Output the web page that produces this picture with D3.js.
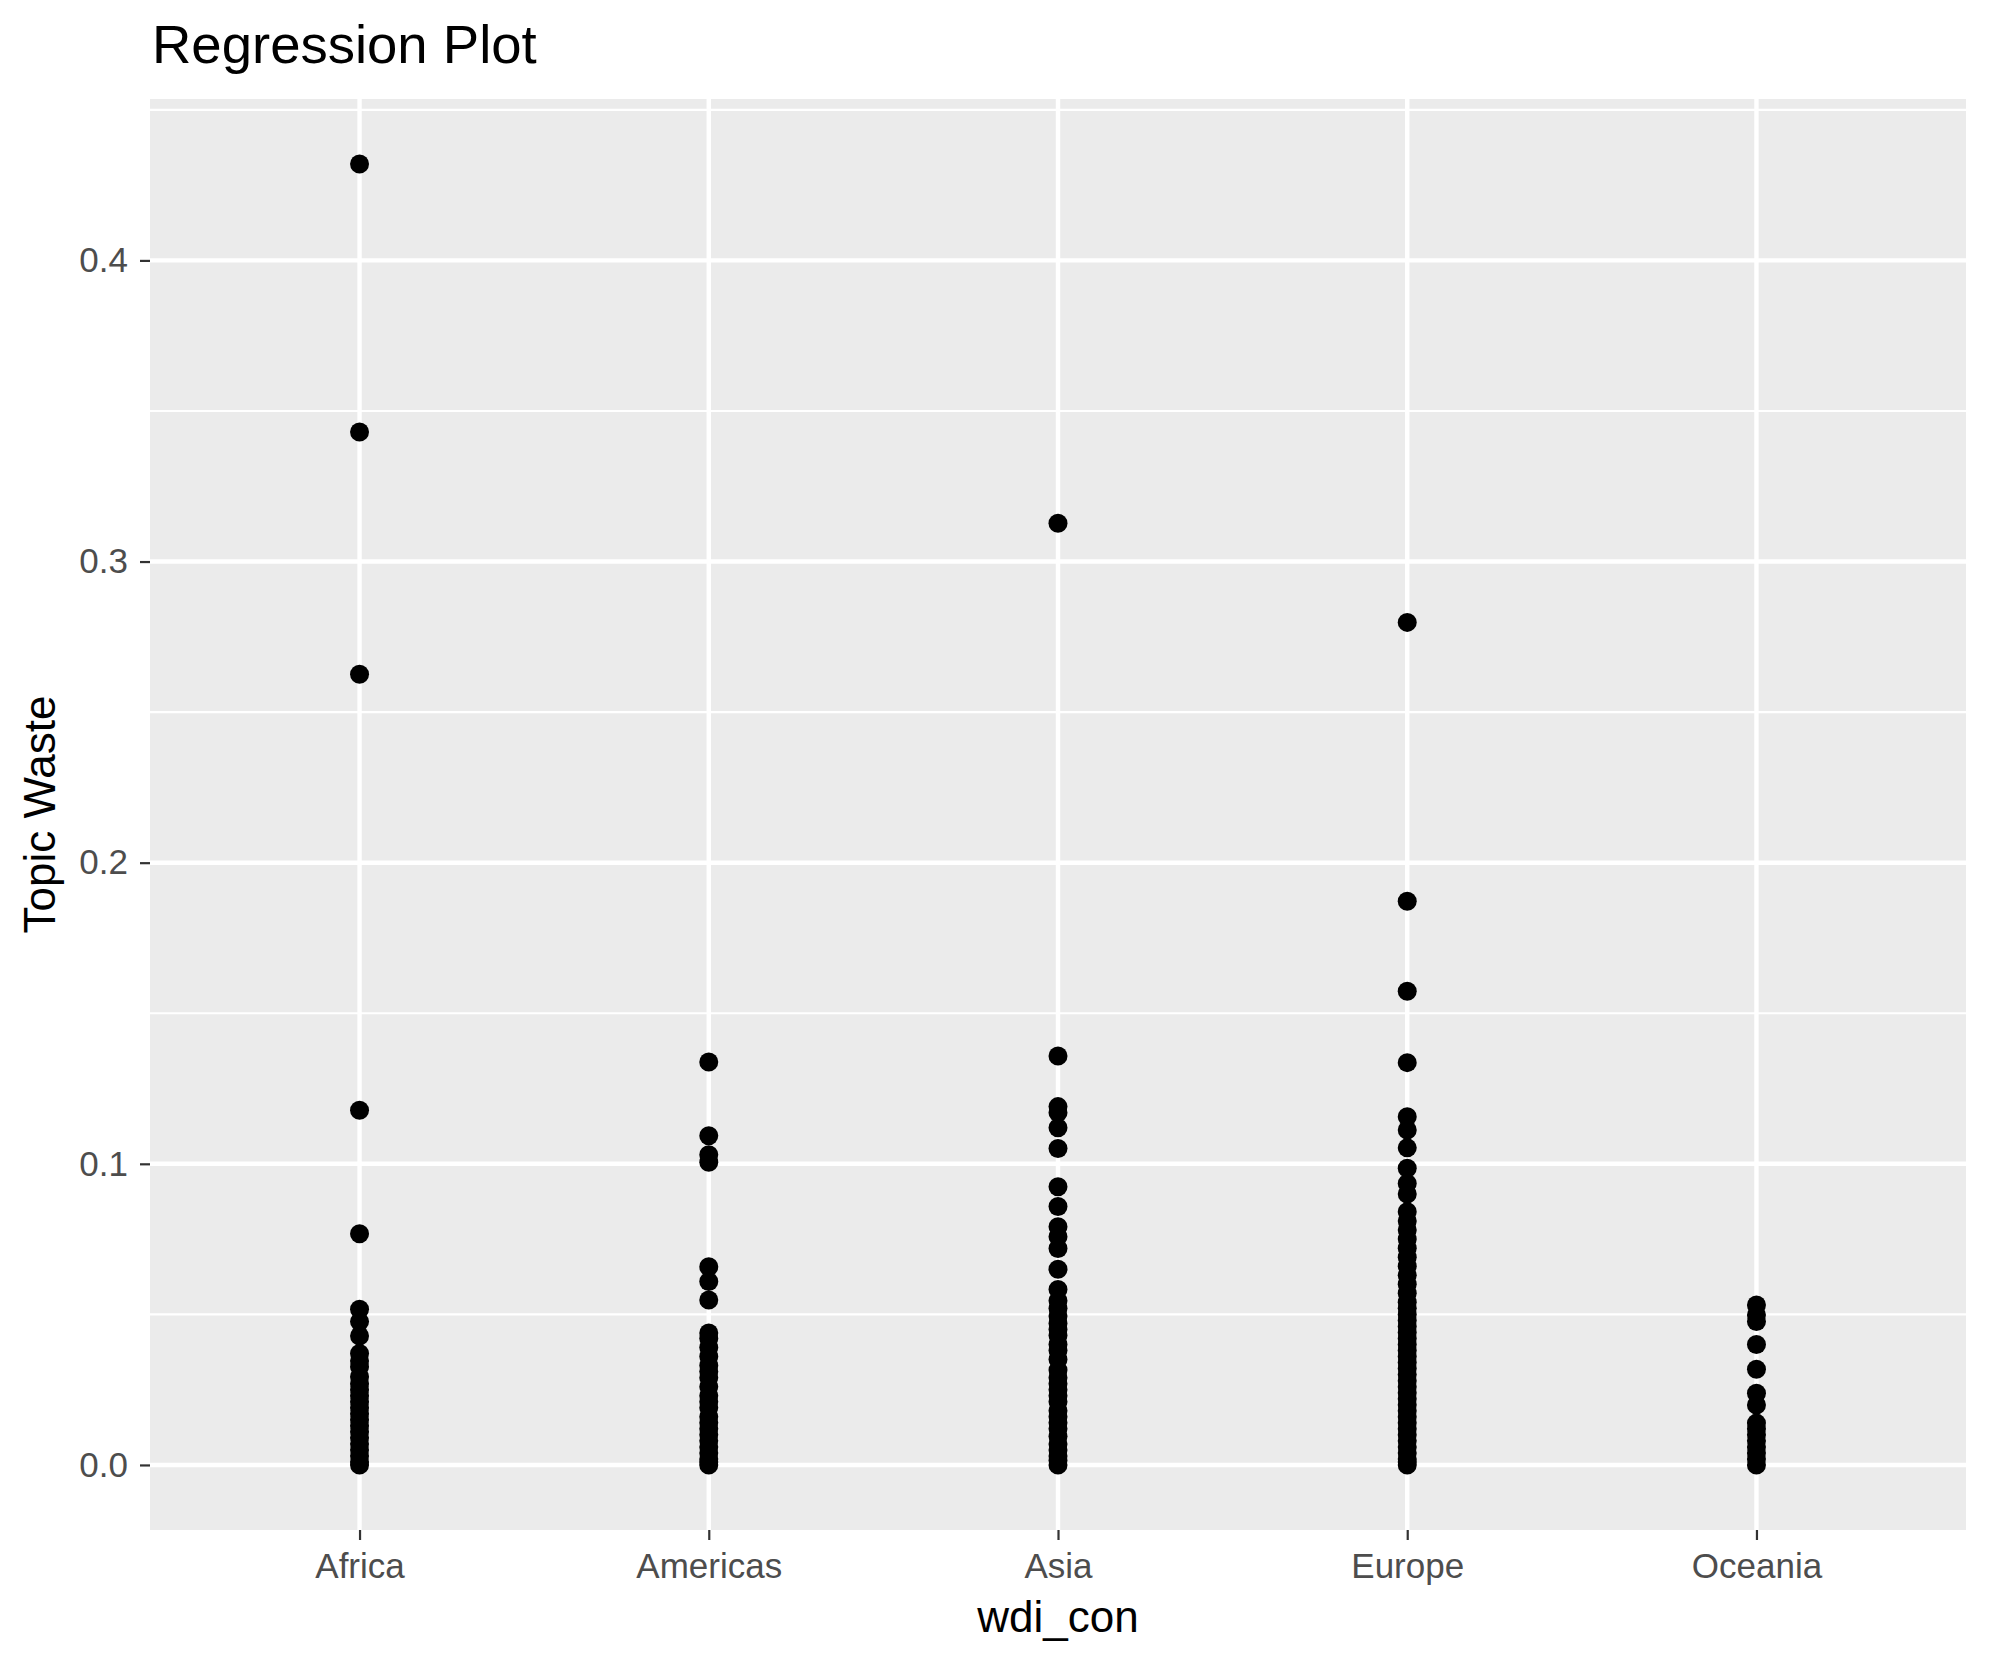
<!DOCTYPE html>
<html lang="en">
<head>
<meta charset="UTF-8">
<title>Regression Plot</title>
<script src="https://cdn.jsdelivr.net/npm/d3@7"></script>
<style>
  body { margin: 0; background: #fff; }
  text { font-family: "Liberation Sans", Arial, Helvetica, sans-serif; }
</style>
</head>
<body>
<svg id="chart" width="1990" height="1665"></svg>
<script>
// categories on x
const regions = ["Africa", "Americas", "Asia", "Europe", "Oceania"];

// Topic Waste values, one list per region
const africa = [0.432, 0.343, 0.2626, 0.1178, 0.0768, 0.0517, 0.0476, 0.0428, 0.037, 0.0345,
  0.0326, 0.0293, 0.027, 0.025, 0.023, 0.021, 0.019, 0.017, 0.015, 0.013, 0.011, 0.009,
  0.007, 0.005, 0.003, 0.001, 0.0];
const americas = [0.1338, 0.1093, 0.103, 0.1005, 0.0658, 0.0609, 0.0548, 0.0438, 0.042,
  0.039, 0.036, 0.033, 0.031, 0.029, 0.026, 0.023, 0.021, 0.019, 0.016, 0.014, 0.012,
  0.010, 0.008, 0.006, 0.004, 0.002, 0.001, 0.0];
const asia = [0.3127, 0.1358, 0.119, 0.117, 0.112, 0.1051, 0.0924, 0.0858, 0.0791, 0.0758,
  0.0719, 0.065, 0.0583, 0.0545, 0.052, 0.0495, 0.047, 0.045, 0.043, 0.040, 0.038, 0.035,
  0.0315, 0.029, 0.027, 0.025, 0.023, 0.021, 0.018, 0.016, 0.014, 0.012, 0.0095, 0.007,
  0.005, 0.003, 0.0015, 0.0];
const europe = [0.2798, 0.1872, 0.1573, 0.1336, 0.1156, 0.1112, 0.1053, 0.0985, 0.0935, 0.09,
  0.0841, 0.081, 0.078, 0.075, 0.072, 0.069, 0.066, 0.063, 0.060, 0.057, 0.054, 0.052,
  0.050, 0.048, 0.046, 0.044, 0.042, 0.040, 0.038, 0.036, 0.034, 0.032, 0.030, 0.028,
  0.026, 0.024, 0.022, 0.020, 0.018, 0.016, 0.014, 0.012, 0.010, 0.008, 0.006, 0.004,
  0.002, 0.001, 0.0];
const oceania = [0.0531, 0.0498, 0.0476, 0.040, 0.0318, 0.0238, 0.0199, 0.0139, 0.012,
  0.010, 0.008, 0.006, 0.004, 0.002, 0.0];

const yTicks = [0, 0.1, 0.2, 0.3, 0.4];
const yMinor = [0.05, 0.15, 0.25, 0.35, 0.45];

const series = [africa, americas, asia, europe, oceania];
const points = [];
series.forEach((vals, i) => vals.forEach(v => points.push({ region: regions[i], value: v })));

const svg = d3.select("#chart");
const pLeft = 150, pRight = 1966, pTop = 99, pBottom = 1530;

const x = d3.scalePoint().domain(regions).range([pLeft, pRight]).padding(0.6);
const ymax = d3.max(points, d => d.value), pad = ymax * 0.05;
const y = d3.scaleLinear().domain([-pad, ymax + pad]).range([pBottom, pTop]);

// panel
svg.append("rect")
  .attr("x", pLeft).attr("y", pTop)
  .attr("width", pRight - pLeft).attr("height", pBottom - pTop)
  .attr("fill", "#EBEBEB");

const grid = svg.append("g");
grid.selectAll(".minor").data(yMinor.filter(v => y(v) >= pTop && y(v) <= pBottom)).join("line")
  .attr("x1", pLeft).attr("x2", pRight)
  .attr("y1", d => y(d)).attr("y2", d => y(d))
  .attr("stroke", "#fff").attr("stroke-width", 2.2);
grid.selectAll(".major").data(yTicks).join("line")
  .attr("x1", pLeft).attr("x2", pRight)
  .attr("y1", d => y(d)).attr("y2", d => y(d))
  .attr("stroke", "#fff").attr("stroke-width", 4.4);
grid.selectAll(".vmajor").data(regions).join("line")
  .attr("x1", d => x(d)).attr("x2", d => x(d))
  .attr("y1", pTop).attr("y2", pBottom)
  .attr("stroke", "#fff").attr("stroke-width", 4.4);

// points
svg.append("g").selectAll("circle").data(points).join("circle")
  .attr("cx", d => x(d.region))
  .attr("cy", d => y(d.value))
  .attr("r", 9.5)
  .attr("fill", "#000");

// axes
const yAxis = svg.append("g").attr("transform", `translate(${pLeft},0)`)
  .call(d3.axisLeft(y).tickValues(yTicks).tickFormat(d3.format(".1f")).tickSize(10).tickPadding(12));
const xAxis = svg.append("g").attr("transform", `translate(0,${pBottom})`)
  .call(d3.axisBottom(x).tickSize(10).tickPadding(13));

[yAxis, xAxis].forEach(ax => {
  ax.select(".domain").remove();
  ax.selectAll(".tick line").attr("stroke", "#333333").attr("stroke-width", 2.2);
  ax.selectAll(".tick text")
    .attr("fill", "#4D4D4D")
    .style("font-size", "35px")
    .style("font-family", "'Liberation Sans', Arial, sans-serif");
});

// titles
svg.append("text")
  .attr("x", 152).attr("y", 63)
  .style("font-size", "54.5px")
  .attr("fill", "#000")
  .text("Regression Plot");

svg.append("text")
  .attr("x", (pLeft + pRight) / 2).attr("y", 1632)
  .attr("text-anchor", "middle")
  .style("font-size", "44px")
  .attr("fill", "#000")
  .text("wdi_con");

svg.append("text")
  .attr("transform", `translate(55,${(pTop + pBottom) / 2}) rotate(-90)`)
  .attr("text-anchor", "middle")
  .style("font-size", "44px")
  .attr("fill", "#000")
  .text("Topic Waste");
</script>
</body>
</html>
